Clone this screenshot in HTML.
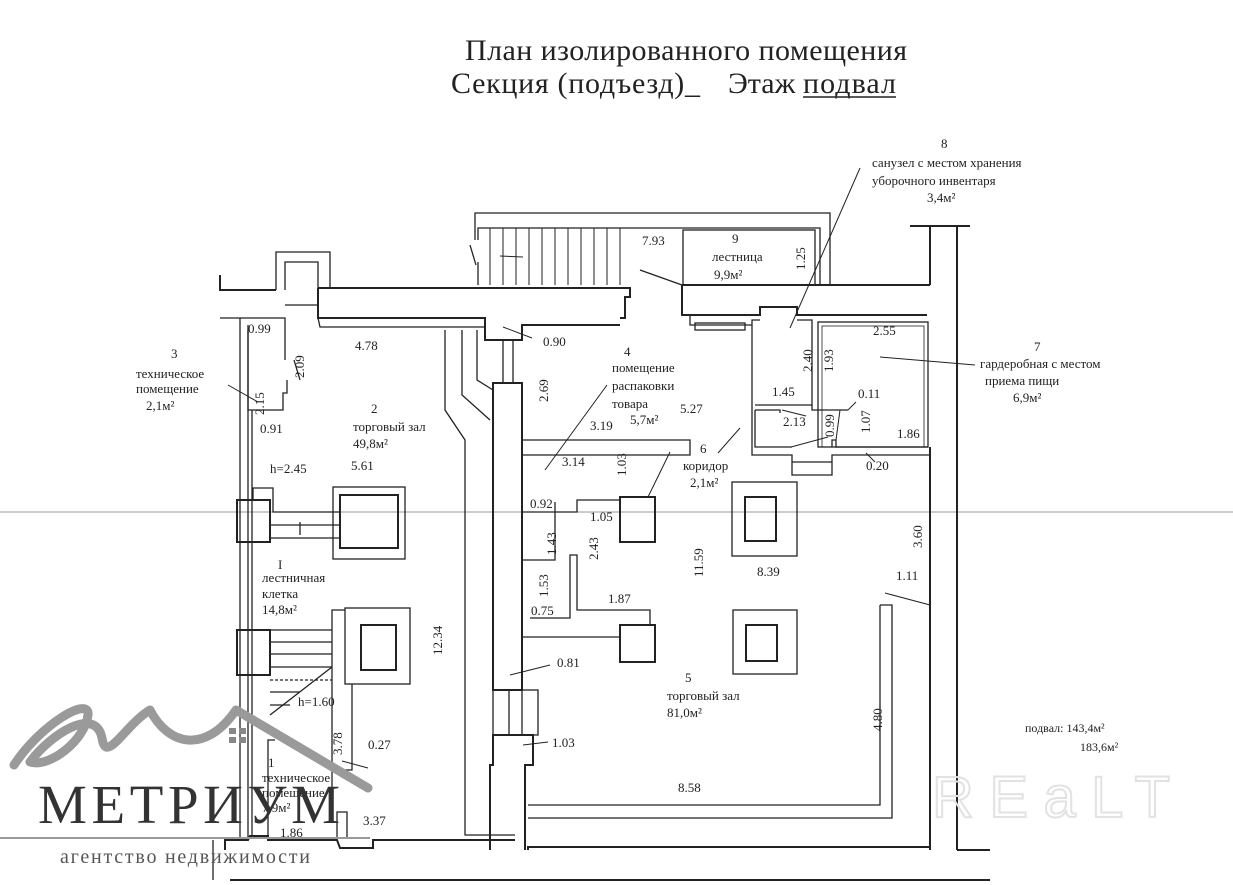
<!DOCTYPE html>
<html><head><meta charset="utf-8"><style>
html,body{margin:0;padding:0;background:#fff}
svg{display:block}
text{font-family:"Liberation Serif",serif;fill:#222}
</style></head><body>
<svg width="1233" height="885" viewBox="0 0 1233 885" xmlns="http://www.w3.org/2000/svg">
<rect width="1233" height="885" fill="#fff"/>
<!-- title -->
<text x="465" y="60" font-size="30" textLength="442">План изолированного помещения</text>
<text x="451" y="93" font-size="30" textLength="249">Секция (подъезд)_</text>
<text x="728" y="93" font-size="30">Этаж</text>
<text x="803" y="93" font-size="30" textLength="93">подвал</text>
<line x1="803" y1="97" x2="896" y2="97" stroke="#222" stroke-width="1.5"/>

<!-- gray scan line -->
<line x1="0" y1="512" x2="1233" y2="512" stroke="#999" stroke-width="1"/>

<g fill="none" stroke="#222" stroke-width="1.3">
<polyline points="276,290 276,252 330,252 330,288"/>
<polyline points="285,290 285,262 318,262 318,288"/>
<line x1="285" y1="305" x2="318" y2="305"/>
<polyline points="220,275 220,290 276,290" stroke-width="2"/>
<polyline points="318,288 630,288 630,297 625,297 625,318 620,318" stroke-width="2"/>
<polyline points="220,318 240,318 240,840" />
<polyline points="240,318 285,318 285,360"/>
<polyline points="248,325 248,840"/>
<polyline points="318,288 318,318 485,318 485,340 522,340 522,325 620,325" stroke-width="2"/>
<polyline points="318,318 320,327 485,327"/>
<polyline points="248,330 248,410 283,410 283,393 287,393 287,380"/>
<line x1="294" y1="360" x2="300" y2="380"/>
<polyline points="252,410 252,835"/>
<polyline points="445,330 445,410 465,440 465,835 515,835"/>
<polyline points="462,330 462,395 490,420"/>
<polyline points="477,330 477,380 493,390"/>
<polyline points="503,340 503,383"/>
<polyline points="513,340 513,383"/>
<rect x="493" y="383" width="29" height="307" stroke-width="2"/>
<rect x="493" y="690" width="45" height="45"/>
<line x1="509" y1="690" x2="509" y2="735"/>
<line x1="522" y1="690" x2="522" y2="735"/>
<polyline points="490,850 490,765 493,765 493,735 533,735 533,765 525,765 525,850" stroke-width="2"/>
<rect x="237" y="500" width="33" height="42" stroke-width="2"/>
<polyline points="253,500 253,488 273,488 273,512 340,512"/>
<line x1="270" y1="525" x2="340" y2="525"/>
<line x1="270" y1="538" x2="340" y2="538"/>
<rect x="333" y="487" width="72" height="72"/>
<rect x="340" y="495" width="58" height="53" stroke-width="2"/>
<line x1="300" y1="522" x2="300" y2="535"/>
<rect x="237" y="630" width="33" height="45" stroke-width="2"/>
<line x1="270" y1="630" x2="332" y2="630"/>
<line x1="270" y1="642" x2="332" y2="642"/>
<line x1="270" y1="654" x2="332" y2="654"/>
<line x1="270" y1="667" x2="332" y2="667"/>
<line x1="270" y1="680" x2="332" y2="680" stroke-dasharray="3,2"/>
<line x1="270" y1="692" x2="300" y2="692"/>
<line x1="270" y1="705" x2="290" y2="705"/>
<line x1="270" y1="715" x2="332" y2="667"/>
<polyline points="332,790 332,610 345,610"/>
<rect x="345" y="608" width="65" height="76"/>
<rect x="361" y="625" width="35" height="45" stroke-width="2"/>
<polyline points="352,684 352,770 345,770"/>
<polyline points="275,740 268,740 268,838"/>
<polyline points="337,838 337,812 347,812 347,838"/>
<polyline points="225,850 225,840 248,840 250,836 268,836 268,840 337,840 340,848 373,848 373,840 515,840" stroke-width="2"/>
<line x1="213" y1="840" x2="213" y2="880"/>
<line x1="230" y1="880" x2="990" y2="880" stroke-width="2"/>

<polyline points="475,240 475,213 830,213 830,285"/>
<polyline points="478,240 478,228 820,228 820,285"/>
<line x1="470" y1="245" x2="476" y2="265"/>
<polyline points="478,285 478,262"/>
<g stroke-width="1">
<line x1="490" y1="228" x2="490" y2="285"/><line x1="503" y1="228" x2="503" y2="285"/><line x1="516" y1="228" x2="516" y2="285"/><line x1="529" y1="228" x2="529" y2="285"/><line x1="542" y1="228" x2="542" y2="285"/><line x1="555" y1="228" x2="555" y2="285"/><line x1="568" y1="228" x2="568" y2="285"/><line x1="581" y1="228" x2="581" y2="285"/><line x1="594" y1="228" x2="594" y2="285"/><line x1="607" y1="228" x2="607" y2="285"/><line x1="620" y1="228" x2="620" y2="285"/>
<line x1="500" y1="256" x2="523" y2="257"/>
</g>
<rect x="683" y="230" width="132" height="55"/>
<line x1="640" y1="270" x2="682" y2="285"/>
<polyline points="682,285 930,285" stroke-width="2"/>
<polyline points="682,285 682,315 760,315 760,307 797,307 797,315 927,315" stroke-width="2"/>
<polyline points="682,315 690,315 690,325 752,325"/>
<rect x="695" y="323" width="50" height="7"/>
<polyline points="760,320 752,320 752,455 792,455 792,475 832,475 832,455 930,455"/>
<polyline points="797,320 812,320 812,405 755,405"/>
<rect x="818" y="322" width="110" height="125"/>
<rect x="822" y="326" width="102" height="121" stroke-width="0.8"/>
<polyline points="755,410 780,410 780,413"/>
<polyline points="755,410 755,447 792,447"/>
<polyline points="832,447 832,440 836,440 836,447 928,447"/>
<polyline points="812,405 812,410 848,410"/>
<line x1="792" y1="462" x2="832" y2="462"/>
<polyline points="910,226 970,226" stroke-width="2"/>
<polyline points="930,226 930,285" stroke-width="2"/>
<line x1="957" y1="226" x2="957" y2="850" stroke-width="2"/>
<line x1="930" y1="447" x2="930" y2="850" stroke-width="2"/>
<line x1="957" y1="850" x2="990" y2="850" stroke-width="2"/>
<polyline points="522,440 690,440 690,455 522,455"/>
<polyline points="522,512 577,512 577,500 620,500"/>
<polyline points="522,560 555,560 555,502"/>
<polyline points="530,618 570,618 570,555 577,555 577,610 650,610 650,625"/>
<line x1="522" y1="637" x2="620" y2="637"/>
<rect x="620" y="497" width="35" height="45" stroke-width="2"/>
<rect x="620" y="625" width="35" height="37" stroke-width="2"/>
<rect x="732" y="482" width="65" height="74"/>
<rect x="745" y="497" width="31" height="44" stroke-width="2"/>
<rect x="733" y="610" width="64" height="64"/>
<rect x="746" y="625" width="31" height="36" stroke-width="2"/>
<polyline points="880,605 892,605 892,818 528,818"/>
<polyline points="528,805 880,805 880,605"/>
<polyline points="528,850 528,847 930,847" stroke-width="2"/>
</g>

<g stroke="#222" stroke-width="1" fill="none">
<line x1="228" y1="385" x2="258" y2="402"/>
<line x1="860" y1="168" x2="790" y2="328"/>
<line x1="975" y1="365" x2="880" y2="357"/>
<line x1="545" y1="470" x2="607" y2="385"/>
<line x1="670" y1="452" x2="648" y2="497"/>
<line x1="740" y1="428" x2="718" y2="453"/>
<line x1="510" y1="675" x2="550" y2="665"/>
<line x1="523" y1="745" x2="548" y2="742"/>
<line x1="885" y1="593" x2="930" y2="605"/>
<line x1="503" y1="327" x2="532" y2="338"/>
<line x1="368" y1="768" x2="342" y2="761"/>
<line x1="782" y1="410" x2="806" y2="416"/>
<line x1="791" y1="447" x2="828" y2="437"/>
<line x1="848" y1="410" x2="856" y2="402"/>
<line x1="866" y1="453" x2="875" y2="462"/>
<line x1="840" y1="410" x2="836" y2="440"/>
</g>

<g font-size="13">
<text x="248" y="333">0.99</text>
<text x="355" y="350">4.78</text>
<text x="543" y="346">0.90</text>
<text x="171" y="358">3</text>
<text x="136" y="378">техническое</text>
<text x="136" y="393">помещение</text>
<text x="146" y="410">2,1м²</text>
<text x="260" y="433">0.91</text>
<text x="371" y="413">2</text>
<text x="353" y="431">торговый зал</text>
<text x="353" y="448">49,8м²</text>
<text x="270" y="473">h=2.45</text>
<text x="351" y="470">5.61</text>
<text x="278" y="569">I</text>
<text x="262" y="582">лестничная</text>
<text x="262" y="598">клетка</text>
<text x="262" y="614">14,8м²</text>
<text x="298" y="706">h=1.60</text>
<text x="368" y="749">0.27</text>
<text x="268" y="767">1</text>
<text x="262" y="782">техническое</text>
<text x="262" y="797">помещение</text>
<text x="262" y="812">7,9м²</text>
<text x="280" y="837">1.86</text>
<text x="363" y="825">3.37</text>
<text x="642" y="245">7.93</text>
<text x="732" y="243">9</text>
<text x="712" y="261">лестница</text>
<text x="714" y="279">9,9м²</text>
<text x="624" y="356">4</text>
<text x="612" y="372">помещение</text>
<text x="612" y="390">распаковки</text>
<text x="612" y="408">товара</text>
<text x="630" y="424">5,7м²</text>
<text x="680" y="413">5.27</text>
<text x="590" y="430">3.19</text>
<text x="562" y="466">3.14</text>
<text x="700" y="453">6</text>
<text x="683" y="470">коридор</text>
<text x="690" y="487">2,1м²</text>
<text x="530" y="508">0.92</text>
<text x="590" y="521">1.05</text>
<text x="531" y="615">0.75</text>
<text x="608" y="603">1.87</text>
<text x="757" y="576">8.39</text>
<text x="896" y="580">1.11</text>
<text x="557" y="667">0.81</text>
<text x="552" y="747">1.03</text>
<text x="685" y="682">5</text>
<text x="667" y="700">торговый зал</text>
<text x="667" y="717">81,0м²</text>
<text x="678" y="792">8.58</text>
<text x="941" y="148">8</text>
<text x="872" y="167">санузел с местом хранения</text>
<text x="872" y="185">уборочного инвентаря</text>
<text x="927" y="202">3,4м²</text>
<text x="873" y="335">2.55</text>
<text x="1034" y="351">7</text>
<text x="980" y="368">гардеробная с местом</text>
<text x="985" y="385">приема пищи</text>
<text x="1013" y="402">6,9м²</text>
<text x="772" y="396">1.45</text>
<text x="783" y="426">2.13</text>
<text x="858" y="398">0.11</text>
<text x="897" y="438">1.86</text>
<text x="866" y="470">0.20</text>
<text x="1025" y="732" font-size="12">подвал: 143,4м²</text>
<text x="1080" y="751" font-size="12">183,6м²</text>
</g>
<g font-size="13">
<text transform="translate(264,415) rotate(-90)">2.15</text>
<text transform="translate(304,378) rotate(-90)">2.09</text>
<text transform="translate(548,402) rotate(-90)">2.69</text>
<text transform="translate(626,476) rotate(-90)">1.03</text>
<text transform="translate(556,555) rotate(-90)">1.43</text>
<text transform="translate(598,560) rotate(-90)">2.43</text>
<text transform="translate(548,597) rotate(-90)">1.53</text>
<text transform="translate(703,577) rotate(-90)">11.59</text>
<text transform="translate(442,655) rotate(-90)">12.34</text>
<text transform="translate(342,755) rotate(-90)">3.78</text>
<text transform="translate(805,270) rotate(-90)">1.25</text>
<text transform="translate(812,372) rotate(-90)">2.40</text>
<text transform="translate(833,372) rotate(-90)">1.93</text>
<text transform="translate(834,437) rotate(-90)">0.99</text>
<text transform="translate(870,433) rotate(-90)">1.07</text>
<text transform="translate(922,548) rotate(-90)">3.60</text>
<text transform="translate(882,731) rotate(-90)">4.80</text>
</g>

<text x="932" y="817" font-size="58" textLength="238" style="font-family:'Liberation Sans',sans-serif;fill:none;stroke:#e2e2e2;stroke-width:2">REaLT</text>

<path d="M14,765 C40,725 90,695 88,715 C85,740 50,768 30,762 C50,735 95,705 102,738 C106,765 125,725 150,710 C168,745 205,755 236,710 L368,788" fill="none" stroke="#9a9a9a" stroke-width="9" stroke-linecap="round" stroke-linejoin="round"/>
<rect x="229" y="728" width="7" height="6" fill="#888"/><rect x="239" y="728" width="7" height="6" fill="#888"/>
<rect x="229" y="737" width="7" height="6" fill="#888"/><rect x="239" y="737" width="7" height="6" fill="#888"/>
<text x="38" y="823" font-size="55" textLength="302" style="fill:#333">МЕТРИУМ</text>
<line x1="0" y1="838" x2="370" y2="838" stroke="#999" stroke-width="2"/>
<text x="60" y="863" font-size="20" textLength="250" style="fill:#555">агентство недвижимости</text>
</svg>
</body></html>
